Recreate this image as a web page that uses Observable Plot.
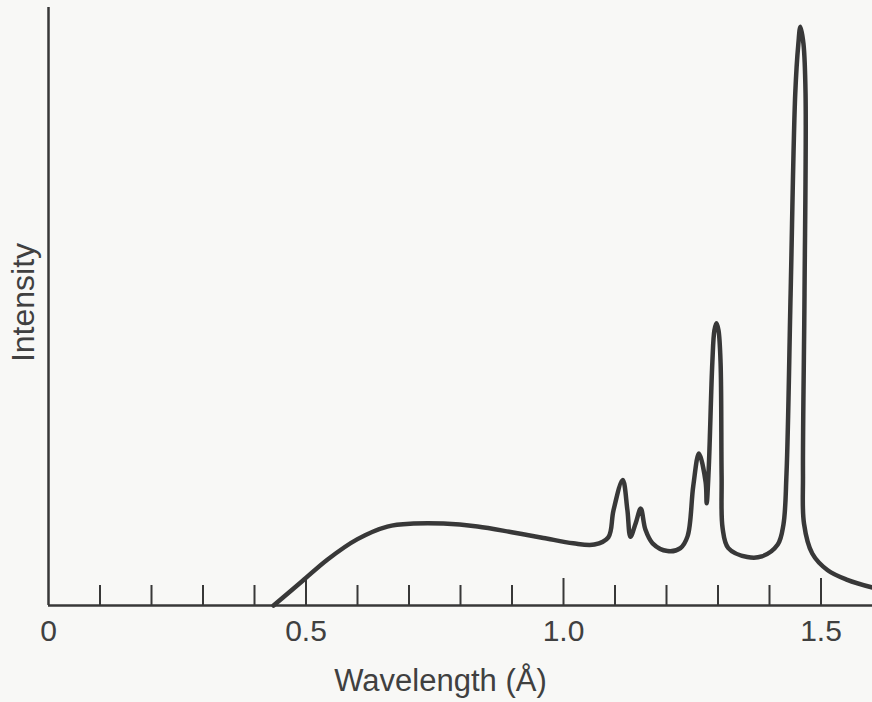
<!DOCTYPE html>
<html>
<head>
<meta charset="utf-8">
<script src="https://cdn.jsdelivr.net/npm/d3@7"></script>
<script src="https://cdn.jsdelivr.net/npm/@observablehq/plot@0.6"></script>
<style>
  html, body { margin: 0; padding: 0; background: #f8f8f6; }
  #chart { width: 872px; height: 702px; }
</style>
</head>
<body>
<div id="chart"></div>
<script>
// Wavelength (Å) and relative intensity
const wavelength = [0.437, 0.493, 0.542, 0.600, 0.658, 0.709, 0.767, 0.833, 0.897, 0.961,
  1.019, 1.060, 1.087, 1.097, 1.115, 1.124, 1.130, 1.140, 1.150, 1.159, 1.173,
  1.202, 1.227, 1.241, 1.252, 1.263, 1.276, 1.278, 1.282, 1.289, 1.293, 1.297,
  1.301, 1.305, 1.307, 1.309, 1.320, 1.357, 1.385, 1.416, 1.427,
  1.433, 1.441, 1.450, 1.456, 1.460, 1.466, 1.470, 1.468, 1.465, 1.467,
  1.483, 1.513, 1.551, 1.600];
const intensity = [0, 4.1, 7.7, 11.1, 13.2, 13.7, 13.7, 13.2, 12.3, 11.3,
  10.4, 10.2, 11.4, 15.9, 21.0, 16.0, 11.5, 13.7, 16.2, 12.7, 10.4,
  9.1, 9.6, 11.6, 20.0, 25.4, 20.6, 17.1, 22.9, 40.6, 46.0, 47.2,
  46.0, 40.6, 21.7, 12.9, 9.6, 8.1, 8.2, 10.2, 13.5,
  22.0, 52.1, 85.6, 93.9, 96.8, 93.9, 85.6, 52.1, 22.0, 13.7,
  8.7, 5.9, 4.3, 3.0];

const minorTicks = [0.1, 0.2, 0.3, 0.4, 0.6, 0.7, 0.8, 0.9, 1.1, 1.2, 1.3, 1.4];
const majorTicks = [0.5, 1.0, 1.5];
const tickLabels = [0, 0.5, 1.0, 1.5];
const xTitle = "Wavelength (Å)";
const yTitle = "Intensity";

const spectrum = wavelength.map((w, i) => ({w, v: intensity[i]}));

const ink = "#383838";
const textInk = "#404040";
const pxPerUnit = (702 - 97 - 7) / 100;

const chart = Plot.plot({
  width: 872,
  height: 702,
  marginLeft: 48,
  marginRight: 0,
  marginTop: 7,
  marginBottom: 97,
  style: {background: "#f8f8f6", fontFamily: "'Liberation Sans', Arial, sans-serif"},
  x: {domain: [0, 1.6]},
  y: {domain: [0, 100], axis: null},
  marks: [
    Plot.ruleY([0], {x1: 0, x2: 1.6, stroke: ink, strokeWidth: 2.5}),
    Plot.ruleX([0], {y1: 0, y2: 100, stroke: ink, strokeWidth: 2.5}),
    Plot.ruleX(minorTicks, {x: d => d, y1: 0, y2: 20 / pxPerUnit, stroke: ink, strokeWidth: 2}),
    Plot.ruleX(majorTicks, {x: d => d, y1: 0, y2: 27 / pxPerUnit, stroke: ink, strokeWidth: 2}),
    Plot.axisX({
      ticks: tickLabels,
      tickSize: 0,
      tickPadding: 14,
      tickFormat: d => d === 0 ? "0" : d.toFixed(1),
      fontSize: 30,
      fill: textInk,
      label: null
    }),
    Plot.line(spectrum, {x: "w", y: "v", curve: "catmull-rom", stroke: ink, strokeWidth: 4.5, strokeLinejoin: "round", strokeLinecap: "round"}),
    Plot.text([xTitle], {frameAnchor: "bottom", textAnchor: "middle", lineAnchor: "bottom", dx: -20, dy: 85, fontSize: 31, fill: textInk}),
    Plot.text([yTitle], {frameAnchor: "left", textAnchor: "middle", lineAnchor: "bottom", rotate: -90, dx: -15, dy: -4, fontSize: 32, fill: textInk})
  ]
});
document.getElementById("chart").appendChild(chart);
</script>
</body>
</html>
